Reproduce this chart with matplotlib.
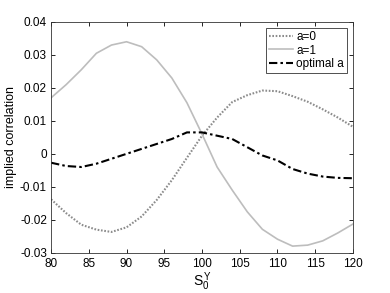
import matplotlib
matplotlib.use("Agg")
import matplotlib.pyplot as plt
import numpy as np

plt.rcParams['font.family'] = ['Liberation Sans', 'DejaVu Sans']
plt.rcParams['mathtext.fontset'] = 'custom'
plt.rcParams['mathtext.rm'] = 'Liberation Sans'
plt.rcParams['mathtext.it'] = 'Liberation Sans'

# 데이터
s0 = [80, 82, 84, 86, 88, 90, 92, 94, 96, 98, 100,
      102, 104, 106, 108, 110, 112, 114, 116, 118, 120]
corr_a0 = [-0.0138, -0.018, -0.0215, -0.023, -0.0237, -0.0223, -0.019, -0.014, -0.008, -0.0012, 0.0055,
           0.011, 0.0157, 0.0178, 0.0192, 0.019, 0.0175, 0.0158, 0.0135, 0.011, 0.0082]
corr_a1 = [0.017, 0.021, 0.0255, 0.0305, 0.033, 0.034, 0.0325, 0.0285, 0.023, 0.0155, 0.006,
           -0.004, -0.011, -0.0176, -0.0229, -0.0259, -0.028, -0.0277, -0.0264, -0.024, -0.0213]
corr_opt = [-0.0027, -0.0037, -0.004, -0.003, -0.0015, 0.0, 0.0015, 0.003, 0.0045, 0.0065, 0.0065,
            0.0055, 0.0045, 0.002, -0.0005, -0.002, -0.0046, -0.006, -0.0069, -0.0073, -0.0074]

fig = plt.figure(figsize=(3.9, 2.93), dpi=100)
ax = fig.add_axes([0.131, 0.1375, 0.774, 0.7875])

ax.plot(s0, corr_a0, linestyle=(0, (0.8, 0.8)), color="#8c8c8c", linewidth=1.5, label="a=0")
ax.plot(s0, corr_a1, linestyle="-", color="#bdbdbd", linewidth=1.2, label="a=1")
ax.plot(s0, corr_opt, linestyle=(0, (4, 1.5, 1.2, 1.5)), color="black", linewidth=1.5, label="optimal a")

ax.set_xlim(80, 120)
ax.set_ylim(-0.03, 0.04)
ax.set_xticks(np.arange(80, 121, 5))
ax.set_yticks(np.arange(-0.03, 0.041, 0.01))
ax.set_yticklabels(["-0.03", "-0.02", "-0.01", "0", "0.01", "0.02", "0.03", "0.04"])
ax.tick_params(direction="in", top=True, right=True, labelsize=8.5, length=3, width=0.6)
ax.tick_params(axis="x", pad=4)
ax.tick_params(axis="y", pad=3)
for sp in ax.spines.values():
    sp.set_linewidth(0.6)
    sp.set_color("#333333")

ax.set_xlabel("$S_0^Y$", fontsize=10, labelpad=0)
ax.set_ylabel("implied correlation", fontsize=9, labelpad=2)

leg = ax.legend(loc="upper right", fontsize=8.5, frameon=True, fancybox=False,
                edgecolor="black", handlelength=2.0, handletextpad=0.3,
                borderpad=0.25, labelspacing=0.15, borderaxespad=0.5)
leg.get_frame().set_linewidth(0.6)

fig.savefig("out.png", dpi=100)
